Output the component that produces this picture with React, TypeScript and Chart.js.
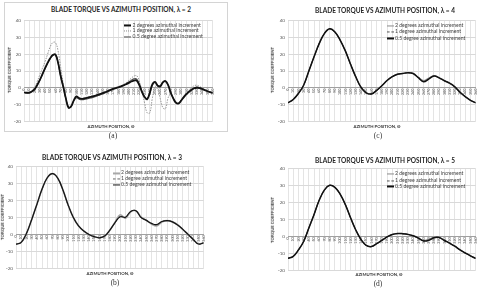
import React, { useEffect, useRef } from "react";
import { Chart, registerables } from "chart.js";

Chart.register(...registerables);

// ---- shared axes ----------------------------------------------------------
const ANGLES_5 = [
  0, 5, 10, 15, 20, 25, 30, 35, 40, 45, 50, 55, 60, 65, 70, 75, 80, 85, 90, 95,
  100, 105, 110, 115, 120, 125, 130, 135, 140, 145, 150, 155, 160, 165, 170,
  175, 180, 185, 190, 195, 200, 205, 210, 215, 220, 225, 230, 235, 240, 245,
  250, 255, 260, 265, 270, 275, 280, 285, 290, 295, 300, 305, 310, 315, 320,
  325, 330, 335, 340, 345, 350, 355, 360,
];
const ANGLES_10 = [
  0, 10, 20, 30, 40, 50, 60, 70, 80, 90, 100, 110, 120, 130, 140, 150, 160,
  170, 180, 190, 200, 210, 220, 230, 240, 250, 260, 270, 280, 290, 300, 310,
  320, 330, 340, 350, 360,
];
const X_TICKS = ANGLES_10;
const Y_TICKS = [-20, -10, 0, 10, 20, 30, 40];
const LEGEND_LABELS = [
  "2 degrees azimuthal increment",
  "1 degree azimuthal increment",
  "0.5 degree azimuthal increment",
];

// ---- lambda = 2 (5 degree samples) -----------------------------------------
const A_2DEG = [
  -2.8, -3, -3, -2.2, -1, 1.5, 4.5, 8, 11.5, 14.8, 17.6, 19.6, 19.8, 15, 7,
  0.5, -6.5, -12, -11, -7.5, -5.2, -6.2, -6.6, -6.3, -6, -5.6, -5.2, -4.8,
  -4.3, -3.8, -3.2, -2.6, -2, -1.3, -0.7, -0.2, 0.3, 0.8, 1.4, 2.1, 2.9, 3.7,
  4.3, 4.3, 1.5, -2.5, -5.5, -6.9, -3, 2.2, 3.5, 1.2, 0.8, 3.2, 3.9, 1.5, -3,
  -6.5, -9, -9.4, -7.6, -5.6, -3.8, -2.4, -1.2, -0.3, 0, -0.2, -0.8, -1.5,
  -2.1, -2.6, -3,
];
const A_1DEG = [
  -2.8, -3, -2.8, -1.8, 0, 3.5, 7.6, 11.5, 15.5, 20, 24.5, 27, 27, 22, 12, 2,
  -6.5, -11.5, -11.5, -8, -5.5, -6, -6.5, -6.2, -5.8, -5.4, -5, -4.6, -4.2,
  -3.7, -3.1, -2.5, -1.9, -1.2, -0.6, 0, 0.6, 1.2, 2, 3, 4.3, 5.8, 7, 7.2, 4,
  -2, -9, -15, -15, -6, 0.5, -1, -6.5, -12, -12.5, -6, -4, -6.5, -8.6, -8.8,
  -7, -4.8, -2.8, -1.2, 0.2, 1.3, 1.5, 0.8, -0.2, -1.2, -2, -2.6, -3,
];
const A_05DEG = [
  -2.8, -3, -3, -2.2, -1, 1.4, 4.3, 7.8, 11.3, 14.6, 17.4, 19.4, 19.6, 14.8,
  6.8, 0.3, -6.7, -11.6, -11.2, -7.8, -6, -6.8, -7.2, -7, -6.7, -6.3, -5.9,
  -5.4, -4.9, -4.3, -3.7, -3, -2.3, -1.6, -0.9, -0.3, 0.2, 0.8, 1.5, 2.4, 3.4,
  4.5, 5.3, 5.2, 2.2, -2, -5.2, -6.4, -3.5, 1.5, 3.2, 1.5, 1.3, 3.5, 4.2, 1.8,
  -2.8, -6.3, -8.7, -9.2, -7.5, -5.4, -3.6, -2.2, -1, 0, 0.4, 0.2, -0.4, -1.2,
  -1.9, -2.5, -3,
];

// ---- lambda = 3 ------------------------------------------------------------
const B_2DEG = [
  -5.8, -4.7, 0.5, 8.7, 17.7, 26.8, 33.5, 35.9, 33.3, 26.3, 17.4, 10, 5, 2, 0,
  -1.3, -2, -1, 2.5, 7.2, 11.6, 9.6, 13.4, 14, 10.2, 8.4, 6.2, 5, 7.4, 8.1,
  7.4, 5.7, 3, 0, -3, -5.6, -5,
];
const B_1DEG = [
  -5.8, -4.7, 0.5, 8.7, 17.7, 26.8, 33.5, 35.9, 33.3, 26.3, 17.4, 10, 5, 2, 0,
  -1.3, -2, -1, 2.5, 7, 10.8, 9.9, 13.5, 14, 10, 8.3, 6.4, 5.5, 7.6, 8.1, 7.4,
  5.6, 3, 0, -3, -5.7, -5,
];
const B_05DEG = [
  -5.8, -4.7, 0.5, 8.7, 17.7, 26.8, 33.5, 35.9, 33.3, 26.3, 17.4, 10, 5, 2, 0,
  -1.3, -2, -1, 2.5, 7, 10.4, 10.2, 13.6, 14, 10, 8.3, 6.5, 5.8, 7.6, 8.1, 7.4,
  5.6, 3, 0, -3, -5.7, -5,
];

// ---- lambda = 4 ------------------------------------------------------------
const C_2DEG = [
  -9, -7, -3.4, 1.5, 10, 18.5, 26.5, 32.5, 35.2, 33.3, 28.5, 22, 14, 6.5, 0.3,
  -3, -3.7, -1.6, 1.2, 4.3, 6.6, 8.1, 8.5, 9, 8.5, 6.2, 4.2, 5.8, 7.3, 5.9, 4.2,
  2.7, 0.5, -2.7, -5.3, -7.5, -9,
];
const C_1DEG = [
  -9, -7, -3.4, 1.5, 10, 18.5, 26.5, 32.5, 35.2, 33.3, 28.5, 22, 14, 6.5, 0.3,
  -3, -3.7, -1.6, 1.2, 4.3, 6.6, 8.1, 8.5, 9, 8.5, 6, 3.8, 5.3, 7, 5.9, 4.2,
  2.7, 0.5, -2.7, -5.3, -7.5, -9,
];
const C_05DEG = [
  -9, -7, -3.4, 1.5, 10, 18.5, 26.5, 32.5, 35.2, 33.3, 28.5, 22, 14, 6.5, 0.3,
  -3, -3.7, -1.6, 1.2, 4.3, 6.6, 8.1, 8.5, 9, 8.5, 6, 3.6, 5.2, 7, 5.9, 4.2,
  2.7, 0.5, -2.7, -5.3, -7.5, -9,
];

// ---- lambda = 5 ------------------------------------------------------------
const D_2DEG = [
  -13, -11.8, -8, -3, 5, 13, 21.5, 27.5, 30.2, 29, 25, 18.8, 11, 3.8, -1.8,
  -5.3, -6, -4.3, -2.3, -0.3, 1.1, 1.7, 1.6, 1.2, 0.4, -1, -2.4, -1.6, -0.5,
  -0.6, -2.4, -4, -5.8, -8, -9.8, -11.5, -13,
];
const D_1DEG = [
  -13, -11.8, -8, -3, 5, 13, 21.5, 27.5, 30.2, 29, 25, 18.8, 11, 3.8, -1.8,
  -5.3, -6, -4.3, -2.3, -0.3, 1.1, 1.7, 1.6, 1.2, 0.4, -1, -2.6, -2.2, -0.8,
  -0.7, -2.4, -4, -5.8, -8, -9.8, -11.5, -13,
];
const D_05DEG = [
  -13, -11.8, -8, -3, 5, 13, 21.5, 27.5, 30.2, 29, 25, 18.8, 11, 3.8, -1.8,
  -5.3, -6, -4.3, -2.3, -0.3, 1.1, 1.7, 1.6, 1.2, 0.4, -1, -2.7, -2.3, -0.8,
  -0.7, -2.4, -4, -5.8, -8, -9.8, -11.5, -13,
];

// ---- styling ---------------------------------------------------------------
const SANS = 'Lato, "Open Sans", "DejaVu Sans", sans-serif';
const SERIF = '"Liberation Serif", "DejaVu Serif", serif';

type LineStyle = { color: string; width: number; dash: number[]; order: number; sample: string };

const STYLE_A: LineStyle[] = [
  { color: "#111111", width: 1.8, dash: [], order: 0, sample: "solid" },
  { color: "#8c8c8c", width: 0.9, dash: [1.5, 1.2], order: 2, sample: "dotted" },
  { color: "#4d4d4d", width: 1.1, dash: [], order: 1, sample: "solid" },
];
const STYLE_B: LineStyle[] = [
  { color: "#a8a8a8", width: 1.7, dash: [], order: 2, sample: "solid" },
  { color: "#666666", width: 0.9, dash: [2, 1.2], order: 1, sample: "dashed" },
  { color: "#141414", width: 1.2, dash: [], order: 0, sample: "solid" },
];
const STYLE_CD: LineStyle[] = [
  { color: "#8a8a8a", width: 1.2, dash: [], order: 2, sample: "solid" },
  { color: "#555555", width: 0.9, dash: [2, 1.2], order: 1, sample: "dashed" },
  { color: "#111111", width: 1.5, dash: [], order: 0, sample: "solid" },
];

type Pt = { x: number; y: number };
type PanelDef = {
  lambda: number;
  caption: string;
  angles: number[];
  series: number[][];
  styles: LineStyle[];
  plot: { l: number; t: number; r: number; b: number };
  title: Pt;
  xTitle: Pt;
  yTitle: Pt;
  cap: Pt;
  legend: { x: number; y: number; gap: number };
  frame?: { l: number; t: number; r: number; b: number };
};

const PANELS: PanelDef[] = [
  {
    lambda: 2,
    caption: "(a)",
    angles: ANGLES_5,
    series: [A_2DEG, A_1DEG, A_05DEG],
    styles: STYLE_A,
    plot: { l: 24, t: 20, r: 213, b: 122 },
    title: { x: 121, y: 10 },
    xTitle: { x: 111, y: 127 },
    yTitle: { x: 10, y: 70 },
    cap: { x: 113, y: 136 },
    legend: { x: 124, y: 25.5, gap: 5.8 },
    frame: { l: 4, t: 2, r: 228, b: 132 },
  },
  {
    lambda: 3,
    caption: "(b)",
    angles: ANGLES_10,
    series: [B_2DEG, B_1DEG, B_05DEG],
    styles: STYLE_B,
    plot: { l: 16, t: 166, r: 204, b: 269 },
    title: { x: 112, y: 157.5 },
    xTitle: { x: 110, y: 273.5 },
    yTitle: { x: 3, y: 217 },
    cap: { x: 115, y: 283 },
    legend: { x: 112.5, y: 173, gap: 6.2 },
  },
  {
    lambda: 4,
    caption: "(c)",
    angles: ANGLES_10,
    series: [C_2DEG, C_1DEG, C_05DEG],
    styles: STYLE_CD,
    plot: { l: 288, t: 20, r: 476, b: 122 },
    title: { x: 385, y: 10.5 },
    xTitle: { x: 377, y: 127 },
    yTitle: { x: 273, y: 70 },
    cap: { x: 378, y: 136 },
    legend: { x: 386.5, y: 26, gap: 6.4 },
  },
  {
    lambda: 5,
    caption: "(d)",
    angles: ANGLES_10,
    series: [D_2DEG, D_1DEG, D_05DEG],
    styles: STYLE_CD,
    plot: { l: 288, t: 168, r: 476, b: 271 },
    title: { x: 385, y: 160.5 },
    xTitle: { x: 379, y: 274.5 },
    yTitle: { x: 273, y: 220 },
    cap: { x: 378, y: 284 },
    legend: { x: 386.5, y: 174.3, gap: 6.3 },
  },
];

// canvas margins around the plot area
const AXIS_W = 16;
const PAD_T = 5;
const PAD_B = 5;
const PAD_R = 5;

function TorquePlot({ p }: { p: PanelDef }) {
  const ref = useRef<HTMLCanvasElement | null>(null);
  const w = p.plot.r - p.plot.l + AXIS_W + PAD_R;
  const h = p.plot.b - p.plot.t + PAD_T + PAD_B;

  useEffect(() => {
    if (!ref.current) return;
    const datasets = p.series.map((vals, i) => {
      const s = p.styles[i];
      return {
        label: LEGEND_LABELS[i],
        data: vals.map((v, j) => ({ x: p.angles[j], y: v })),
        borderColor: s.color,
        borderWidth: s.width,
        borderDash: s.dash,
        order: s.order,
        pointRadius: 0,
        tension: 0.4,
        fill: false,
      };
    });
    const chart = new Chart(ref.current, {
      type: "line",
      data: { datasets },
      options: {
        responsive: false,
        animation: false,
        events: [],
        layout: { padding: { left: 0, top: PAD_T, right: PAD_R, bottom: PAD_B } },
        plugins: {
          legend: { display: false },
          tooltip: { enabled: false },
          title: { display: false },
        },
        scales: {
          x: {
            type: "linear",
            min: 0,
            max: 360,
            position: { y: 0 } as any,
            afterBuildTicks: (scale: any) => {
              scale.ticks = X_TICKS.map((v) => ({ value: v }));
            },
            ticks: {
              autoSkip: false,
              minRotation: 90,
              maxRotation: 90,
              padding: 1,
              color: "#4a4a4a",
              font: { size: 3.6, family: SANS },
            },
            grid: { color: "#e4e4e4", lineWidth: 1, drawTicks: false },
            border: { display: true, color: "#a0a0a0", width: 1 },
          },
          y: {
            type: "linear",
            min: -20,
            max: 40,
            afterBuildTicks: (scale: any) => {
              scale.ticks = Y_TICKS.map((v) => ({ value: v }));
            },
            afterFit: (scale: any) => {
              scale.width = AXIS_W;
            },
            ticks: {
              padding: 3,
              color: "#595959",
              font: { size: 4.6, family: SANS },
            },
            grid: { color: "#d9d9d9", lineWidth: 1, drawTicks: false },
            border: { display: false },
          },
        },
      },
    });
    return () => chart.destroy();
  }, [p]);

  return (
    <canvas
      ref={ref}
      width={w}
      height={h}
      style={{
        position: "absolute",
        left: p.plot.l - AXIS_W,
        top: p.plot.t - PAD_T,
        width: w,
        height: h,
      }}
    />
  );
}

const centered = (x: number, y: number, extra: React.CSSProperties = {}): React.CSSProperties => ({
  position: "absolute",
  left: x,
  top: y,
  transform: "translate(-50%, -50%)",
  whiteSpace: "nowrap",
  lineHeight: 1,
  ...extra,
});

function Panel({ p }: { p: PanelDef }) {
  return (
    <>
      {p.frame && (
        <div
          style={{
            position: "absolute",
            left: p.frame.l,
            top: p.frame.t,
            width: p.frame.r - p.frame.l,
            height: p.frame.b - p.frame.t,
            border: "1px solid #d4d4d4",
            boxSizing: "border-box",
          }}
        />
      )}
      <TorquePlot p={p} />
      <div
        style={centered(p.title.x, p.title.y, {
          fontFamily: SANS,
          fontWeight: 700,
          fontSize: 6.5,
          color: "#262626",
        })}
      >
        {`BLADE TORQUE VS AZIMUTH POSITION, λ = ${p.lambda}`}
      </div>
      <div
        style={centered(p.xTitle.x, p.xTitle.y, {
          fontFamily: SANS,
          fontWeight: 700,
          fontSize: 4.3,
          color: "#333333",
        })}
      >
        AZIMUTH POSITION, Θ
      </div>
      <div
        style={centered(p.yTitle.x, p.yTitle.y, {
          fontFamily: SANS,
          fontWeight: 700,
          fontSize: 4.3,
          color: "#333333",
          transform: "translate(-50%, -50%) rotate(-90deg)",
        })}
      >
        TORQUE COEFFICIENT
      </div>
      <div
        style={centered(p.cap.x, p.cap.y, {
          fontFamily: SERIF,
          fontSize: 7.5,
          color: "#333333",
        })}
      >
        {p.caption}
      </div>
      {LEGEND_LABELS.map((label, i) => {
        const s = p.styles[i];
        return (
          <div
            key={label}
            style={{
              position: "absolute",
              left: p.legend.x,
              top: p.legend.y + i * p.legend.gap,
              transform: "translateY(-50%)",
              display: "flex",
              alignItems: "center",
              whiteSpace: "nowrap",
              fontFamily: SANS,
              fontSize: 5.1,
              lineHeight: 1,
              color: "#404040",
            }}
          >
            <span
              style={{
                display: "inline-block",
                width: 7,
                height: 0,
                borderTop: `${Math.max(1, Math.round(s.width))}px ${s.sample} ${s.color}`,
                marginRight: 1.5,
              }}
            />
            <span>{label}</span>
          </div>
        );
      })}
    </>
  );
}

export default function App() {
  return (
    <div
      style={{
        position: "absolute",
        left: 0,
        top: 0,
        width: 480,
        height: 294,
        background: "#ffffff",
        overflow: "hidden",
      }}
    >
      {PANELS.map((p) => (
        <Panel key={p.caption} p={p} />
      ))}
    </div>
  );
}
